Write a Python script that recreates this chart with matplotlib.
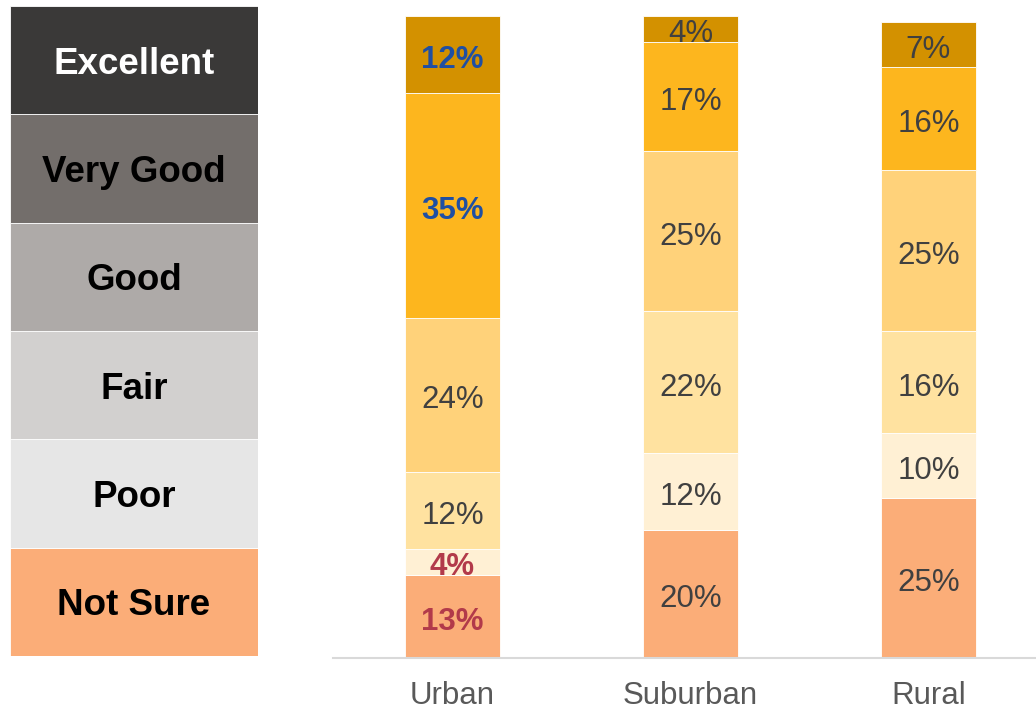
import matplotlib
matplotlib.use("Agg")
import matplotlib.pyplot as plt
from matplotlib.transforms import offset_copy

plt.rcParams['font.family'] = ['Liberation Sans', 'DejaVu Sans']

groups = ["Urban", "Suburban", "Rural"]
levels = ["Not Sure", "Poor", "Fair", "Good", "Very Good", "Excellent"]
not_sure = [13, 20, 25]
poor = [4, 12, 10]
fair = [12, 22, 16]
good = [24, 25, 25]
very_good = [35, 17, 16]
excellent = [12, 4, 7]
series = [not_sure, poor, fair, good, very_good, excellent]

bar_colors = ["#FBAD78", "#FFF0D4", "#FFE2A0", "#FFD27A", "#FDB61E", "#D39100"]
legend_colors = ["#FBAD78", "#E6E6E6", "#D2D0CF", "#AEAAA8", "#736E6B", "#3A3938"]
legend_text = ["black", "black", "black", "black", "black", "white"]

blue = "#1F4FA3"
red = "#B23A4A"
gray = "#404040"

fig = plt.figure(figsize=(10.36, 7.11), dpi=100)

# legend panel
lax = fig.add_axes([10/1036, 1 - 656/711, 248/1036, 650/711])
for i, (lab, c, tc) in enumerate(zip(levels, legend_colors, legend_text)):
    lax.bar(0, 1, bottom=i, width=1, color=c, edgecolor="white", linewidth=0.6)
    lax.text(0, i + 0.5, lab, ha="center", va="center_baseline", fontsize=26.5,
             fontweight="bold", color=tc)
lax.set_xlim(-0.5, 0.5)
lax.set_ylim(0, 6)
lax.axis("off")

# main chart
ax = fig.add_axes([333/1036, 53/711, 703/1036, 642/711])
tr = offset_copy(ax.transData, fig=fig, x=0, y=-1.5, units="points")
x = list(range(len(groups)))
bottoms = [0, 0, 0]
for si, (vals, c) in enumerate(zip(series, bar_colors)):
    ax.bar(x, vals, bottom=bottoms, width=0.4, color=c, edgecolor="white", linewidth=0.6)
    for gi, v in enumerate(vals):
        color, weight = gray, "normal"
        if gi == 0 and si in (4, 5):
            color, weight = blue, "bold"
        elif gi == 0 and si in (0, 1):
            color, weight = red, "bold"
        ax.text(x[gi], bottoms[gi] + v / 2, f"{v}%", ha="center", va="center_baseline",
                fontsize=22.5, color=color, fontweight=weight, transform=tr)
    bottoms = [b + v for b, v in zip(bottoms, vals)]

ax.set_xlim(-0.502, 2.452)
ax.set_ylim(0, 100)
ax.set_xticks(x)
ax.set_xticklabels(groups, fontsize=22.5, color="#595959")
ax.tick_params(axis="x", length=0, pad=16.5)
ax.set_yticks([])
for s in ["top", "right", "left"]:
    ax.spines[s].set_visible(False)
ax.spines["bottom"].set_color("#D9D9D9")
ax.spines["bottom"].set_linewidth(1.5)

fig.savefig("out.png", dpi=100)
